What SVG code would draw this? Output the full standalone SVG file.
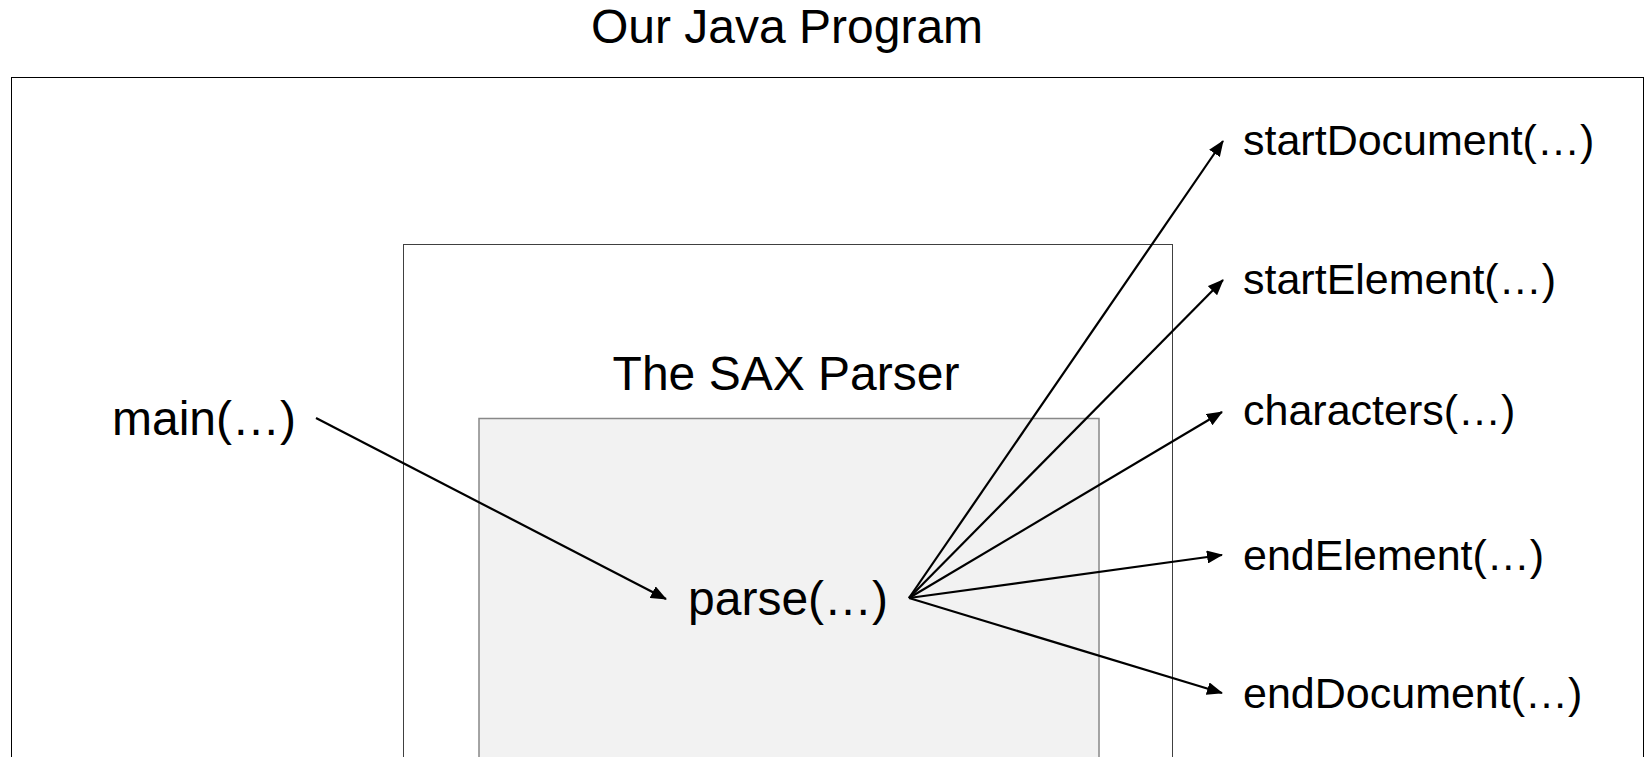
<svg xmlns="http://www.w3.org/2000/svg" width="1646" height="757" viewBox="0 0 1646 757">
  <style>
    .lbl { font-family: "Liberation Sans", Arial, sans-serif; font-size: 48px; fill: #000; }
    .cb { font-size: 43px; }
    .mid { text-anchor: middle; }
    .conn { stroke: #000; stroke-width: 2.2; fill: none; marker-end: url(#arrow); }
  </style>
  <defs>
    <marker id="arrow" viewBox="0 0 16 13" refX="15" refY="6.5" markerWidth="16" markerHeight="13" markerUnits="userSpaceOnUse" orient="auto">
      <path d="M0,0 L16,6.5 L0,13 Z" fill="#000"/>
    </marker>
  </defs>
  <rect width="1646" height="757" fill="#fff"/>

  <!-- Java program container -->
  <g id="java-program">
    <text class="lbl mid" x="787" y="43">Our Java Program</text>
    <rect x="11.5" y="77.5" width="1632" height="700" fill="none" stroke="#000" stroke-width="1"/>
  </g>

  <!-- SAX parser container -->
  <g id="sax-parser">
    <rect x="403.5" y="244.5" width="769" height="540" fill="none" stroke="#404040" stroke-width="1"/>
    <text class="lbl mid" x="786" y="390">The SAX Parser</text>
  </g>

  <!-- parse() area -->
  <g id="parse">
    <rect x="479" y="418.5" width="620" height="400" fill="#f2f2f2" stroke="#888" stroke-width="1.5"/>
    <text class="lbl" x="688" y="615">parse(…)</text>
  </g>

  <g id="main"><text class="lbl" x="112" y="435">main(…)</text></g>

  <!-- handler callbacks -->
  <g id="startDocument"><text class="lbl cb" x="1243" y="155">startDocument(…)</text></g>
  <g id="startElement"><text class="lbl cb" x="1243" y="294">startElement(…)</text></g>
  <g id="characters"><text class="lbl cb" x="1243" y="425">characters(…)</text></g>
  <g id="endElement"><text class="lbl cb" x="1243" y="570">endElement(…)</text></g>
  <g id="endDocument"><text class="lbl cb" x="1243" y="708">endDocument(…)</text></g>

  <!-- calls between methods -->
  <g id="connectors">
    <line class="conn" x1="316" y1="418" x2="666" y2="599"/>
    <line class="conn" x1="909" y1="598" x2="1223" y2="141"/>
    <line class="conn" x1="909" y1="598" x2="1223" y2="280"/>
    <line class="conn" x1="909" y1="598" x2="1222" y2="412"/>
    <line class="conn" x1="909" y1="598" x2="1222" y2="555"/>
    <line class="conn" x1="909" y1="598" x2="1222" y2="693"/>
  </g>
</svg>
